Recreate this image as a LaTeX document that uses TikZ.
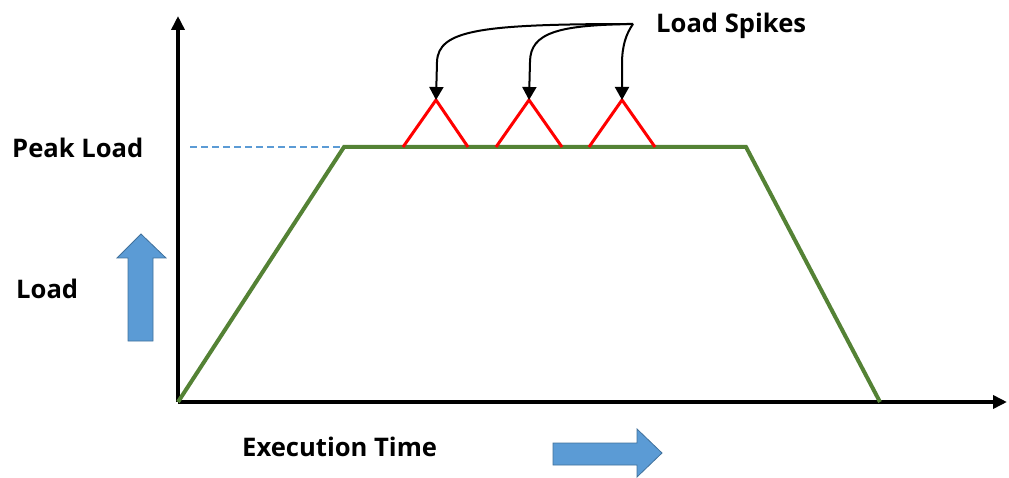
\documentclass[tikz,border=0pt]{standalone}
\usepackage{fontspec}
\setmainfont{Open Sans}
\usetikzlibrary{arrows.meta}
\definecolor{loadgreen}{HTML}{548235}
\definecolor{arrowblue}{HTML}{5B9BD5}
\definecolor{arrowedge}{HTML}{41719C}
\begin{document}
\begin{tikzpicture}[x=1pt,y=-1pt,
  label/.style={font=\bfseries\fontsize{25.6}{28}\selectfont, inner sep=0pt, anchor=west},
  axis/.style={line width=4pt, -{Triangle[length=14pt,width=13pt]}},
  profile/.style={loadgreen, line width=4pt, line join=miter},
  spike/.style={red, line width=3pt},
  pointer/.style={line width=2pt, -{Triangle[length=13pt,width=14pt]}},
  blockarrow/.style={fill=arrowblue, draw=arrowedge, line width=0.8pt}]
\useasboundingbox (0,0) rectangle (1009,478);

% axes
\coordinate (origin) at (178,402);
\coordinate (ytop) at (178,16);
\coordinate (xend) at (1007,402);
\draw[axis] (origin) -- (ytop);
\draw[axis] (origin) -- (xend);

% peak-load reference line
\coordinate (peakstart) at (190,147);
\coordinate (rampTop) at (344,147);
\draw[arrowblue, line width=1.5pt, dash pattern=on 7pt off 4pt] (peakstart) -- (rampTop);

% load profile
\coordinate (plateauEnd) at (746,147);
\coordinate (rampEnd) at (880,402);
\draw[profile] (origin) -- (rampTop) -- (plateauEnd) -- (rampEnd);

% spikes on the plateau
\coordinate (s1) at (436,100);
\coordinate (s2) at (529,100);
\coordinate (s3) at (622,100);
\draw[spike] (403,147) -- (s1) -- (468,147);
\draw[spike] (496,147) -- (s2) -- (562,147);
\draw[spike] (589,147) -- (s3) -- (655,147);

% labels
\node[label] (spikes) at (656,26) {Load Spikes};
\node[label] (peak) at (12,148) {Peak Load};
\node[label] (load) at (16,289) {Load};
\node[label] (exec) at (242,447) {Execution Time};

% pointers from the spike label
\coordinate (fork) at ([xshift=-23pt,yshift=2pt]spikes.west);
\draw[pointer] (fork) .. controls (480,24) and (438,30) .. (437,62) -- (s1);
\draw[pointer] (fork) .. controls (560,25) and (530,32) .. (530,62) -- (s2);
\draw[pointer] (fork) .. controls (626,34) and (622,46) .. (622,64) -- (s3);

% block arrows
\draw[blockarrow] (128,341) -- (128,258) -- (117,258) -- (141,234) -- (166,258) -- (153,258) -- (153,341) -- cycle;
\draw[blockarrow] (553,443) -- (637,443) -- (637,429) -- (662,453) -- (637,477) -- (637,465) -- (553,465) -- cycle;
\end{tikzpicture}
\end{document}
